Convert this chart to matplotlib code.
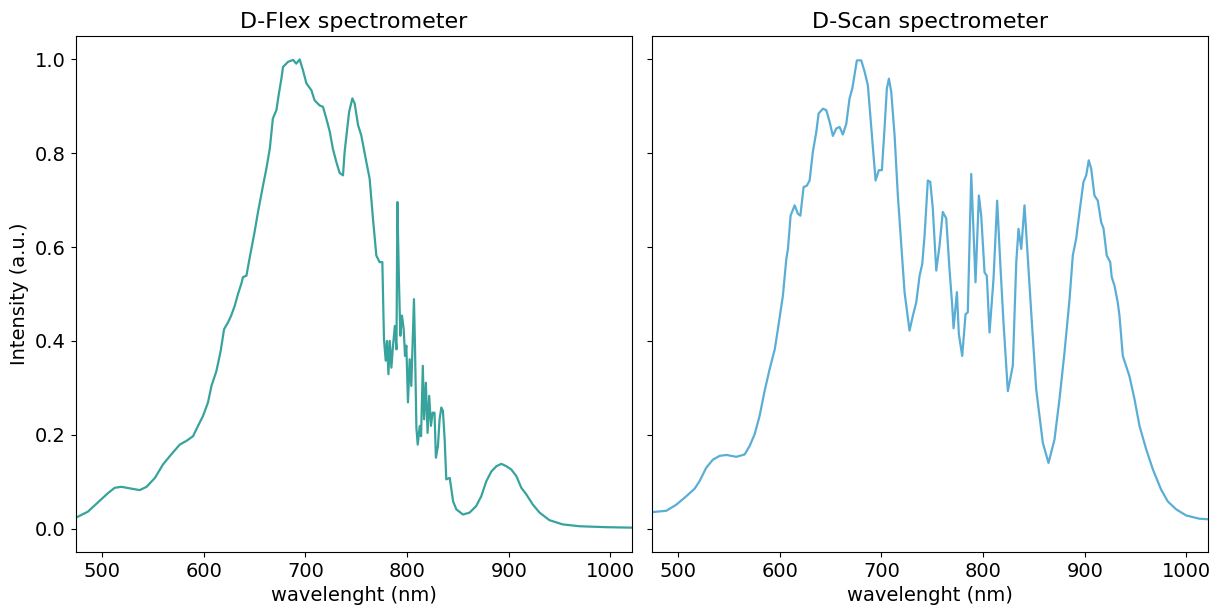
import matplotlib
matplotlib.use("Agg")
import matplotlib.pyplot as plt

# D-Flex spectrometer
flex_wl = [474, 486, 499, 506, 512.5, 519, 529, 537, 543.7, 552, 560, 568, 576.4, 583,
           589.5, 594.4, 599.3, 604.2, 607.6, 612.5, 616.7, 620, 624, 627, 630.5, 633.7,
           637, 638.6, 642, 645, 650, 653.4, 658.3, 661.6, 665, 668, 671.5, 673.7, 676.4,
           678, 683, 688, 691, 694.4, 697.6, 701, 706, 709, 714, 717.3, 720.6, 724, 727,
           730.5, 733.7, 737, 738.6, 740.4, 743, 746.2, 748.5, 751.8, 755, 760, 763.2,
           766.5, 769.8, 773, 775.7, 777.3, 779, 780.3, 781.7, 783, 784.6, 786.2, 788,
           789.6, 790.5, 792, 793.4, 795, 796.7, 798, 799.3, 800.9, 802.6, 804.2, 805.2,
           806.8, 807.8, 809.2, 810.5, 812.5, 813.8, 815.5, 816.8, 818.5, 820.2, 821.8,
           823.5, 825.1, 827, 828.4, 830.4, 832, 833.7, 835.3, 837, 838.6, 842, 845.3,
           848.5, 855, 861.5, 868, 873, 878, 883, 888, 892.7, 897.6, 902.5, 907.5, 912.4,
           917.3, 923.8, 930.4, 940, 953, 969.7, 996, 1021]
flex_int = [0.023, 0.036, 0.062, 0.076, 0.087, 0.089, 0.085, 0.082, 0.089, 0.108, 0.137,
            0.158, 0.179, 0.187, 0.197, 0.219, 0.240, 0.269, 0.304, 0.336, 0.379, 0.425,
            0.440, 0.454, 0.475, 0.500, 0.522, 0.536, 0.539, 0.575, 0.632, 0.675, 0.731,
            0.767, 0.810, 0.874, 0.892, 0.924, 0.959, 0.984, 0.995, 0.999, 0.991, 1.000,
            0.977, 0.949, 0.934, 0.913, 0.902, 0.899, 0.874, 0.846, 0.810, 0.781, 0.758,
            0.753, 0.803, 0.838, 0.888, 0.917, 0.906, 0.860, 0.838, 0.781, 0.746, 0.660,
            0.582, 0.568, 0.568, 0.404, 0.358, 0.400, 0.329, 0.400, 0.343, 0.390, 0.432,
            0.382, 0.696, 0.532, 0.411, 0.454, 0.425, 0.368, 0.390, 0.269, 0.361, 0.304,
            0.375, 0.489, 0.390, 0.215, 0.179, 0.219, 0.197, 0.347, 0.233, 0.311, 0.204,
            0.283, 0.219, 0.247, 0.247, 0.151, 0.176, 0.233, 0.258, 0.251, 0.190, 0.105,
            0.108, 0.058, 0.041, 0.030, 0.034, 0.048, 0.069, 0.101, 0.122, 0.133, 0.138,
            0.133, 0.126, 0.112, 0.087, 0.073, 0.051, 0.034, 0.018, 0.009, 0.005, 0.003,
            0.002]

# D-Scan spectrometer
scan_wl = [474, 488.4, 498.2, 508, 516.2, 521, 527.7, 534.2, 540.8, 547.4, 557.2, 565.4,
           570.3, 575.2, 580.1, 585, 590, 595, 598.1, 603, 606.4, 608, 610.6, 614.6, 617.8,
           620.2, 623.4, 626.6, 629.3, 632.5, 635.9, 638.2, 642.4, 645.7, 649, 652.2, 655.6,
           658.8, 662, 665.4, 668.6, 671.3, 675.8, 680.1, 683.4, 686.6, 690, 694.2, 697.4,
           700.4, 703, 705.3, 707.3, 709.6, 712.9, 716.1, 719.5, 722.7, 727.6, 730.9, 734.2,
           737.5, 740.1, 742.4, 745.6, 748, 750.5, 753.9, 757.1, 760.3, 763.7, 766.9, 769.6,
           770.9, 774.2, 776.1, 779.4, 782.7, 784.9, 788.3, 792.5, 795.8, 798.1, 801.4,
           803.6, 806.3, 810.2, 813.8, 816.8, 820, 824.3, 829.2, 832.6, 834.8, 837.5, 840.7,
           844, 847.3, 852.2, 858.7, 864.3, 870.2, 875.1, 880, 885, 888.2, 891.5, 894.8,
           898.7, 901.4, 903.9, 906.3, 909.5, 912.8, 916.1, 918.4, 921.6, 925, 926.5, 929.2,
           932.4, 934.1, 937.4, 943.9, 948.9, 953.8, 960.4, 967, 975.1, 981.6, 989.9, 999.7,
           1012.8, 1021]
scan_int = [0.035, 0.038, 0.051, 0.069, 0.085, 0.101, 0.130, 0.147, 0.155, 0.157, 0.153,
            0.158, 0.176, 0.201, 0.240, 0.293, 0.340, 0.382, 0.425, 0.496, 0.575, 0.596,
            0.667, 0.689, 0.671, 0.667, 0.728, 0.731, 0.742, 0.803, 0.846, 0.885, 0.895,
            0.892, 0.867, 0.837, 0.853, 0.856, 0.840, 0.863, 0.917, 0.938, 0.998, 0.998,
            0.974, 0.945, 0.853, 0.742, 0.764, 0.764, 0.853, 0.938, 0.959, 0.931, 0.838,
            0.710, 0.603, 0.504, 0.422, 0.454, 0.482, 0.539, 0.564, 0.625, 0.742, 0.739,
            0.682, 0.550, 0.603, 0.675, 0.661, 0.553, 0.475, 0.427, 0.504, 0.415, 0.368,
            0.457, 0.461, 0.756, 0.525, 0.710, 0.667, 0.546, 0.539, 0.418, 0.532, 0.699,
            0.568, 0.440, 0.293, 0.347, 0.568, 0.639, 0.596, 0.689, 0.575, 0.461, 0.297,
            0.183, 0.140, 0.190, 0.276, 0.375, 0.489, 0.582, 0.618, 0.675, 0.739, 0.753,
            0.785, 0.767, 0.710, 0.699, 0.653, 0.640, 0.582, 0.568, 0.536, 0.518, 0.482,
            0.454, 0.368, 0.325, 0.276, 0.219, 0.169, 0.126, 0.083, 0.058, 0.041, 0.028,
            0.021, 0.020]

fig, (ax_flex, ax_scan) = plt.subplots(1, 2, figsize=(12.2, 6.1), dpi=100, sharey=True)
fig.subplots_adjust(left=0.062, right=0.990, top=0.941, bottom=0.095, wspace=0.036)

ax_flex.plot(flex_wl, flex_int, color="#38a39c", linewidth=1.6)
ax_flex.set_title("D-Flex spectrometer", fontsize=16)
ax_flex.set_ylabel("Intensity (a.u.)", fontsize=14)
ax_flex.set_xlabel("wavelenght (nm)", fontsize=14)
ax_flex.set_xlim(flex_wl[0], flex_wl[-1])

ax_scan.plot(scan_wl, scan_int, color="#5aaed6", linewidth=1.6)
ax_scan.set_title("D-Scan spectrometer", fontsize=16)
ax_scan.set_xlabel("wavelenght (nm)", fontsize=14)
ax_scan.set_xlim(scan_wl[0], scan_wl[-1])

for ax in (ax_flex, ax_scan):
    ax.tick_params(labelsize=14)
    ax.set_xticks([500, 600, 700, 800, 900, 1000])
ax_flex.set_ylim(-0.05, 1.05)

fig.savefig("out.png", dpi=100)
